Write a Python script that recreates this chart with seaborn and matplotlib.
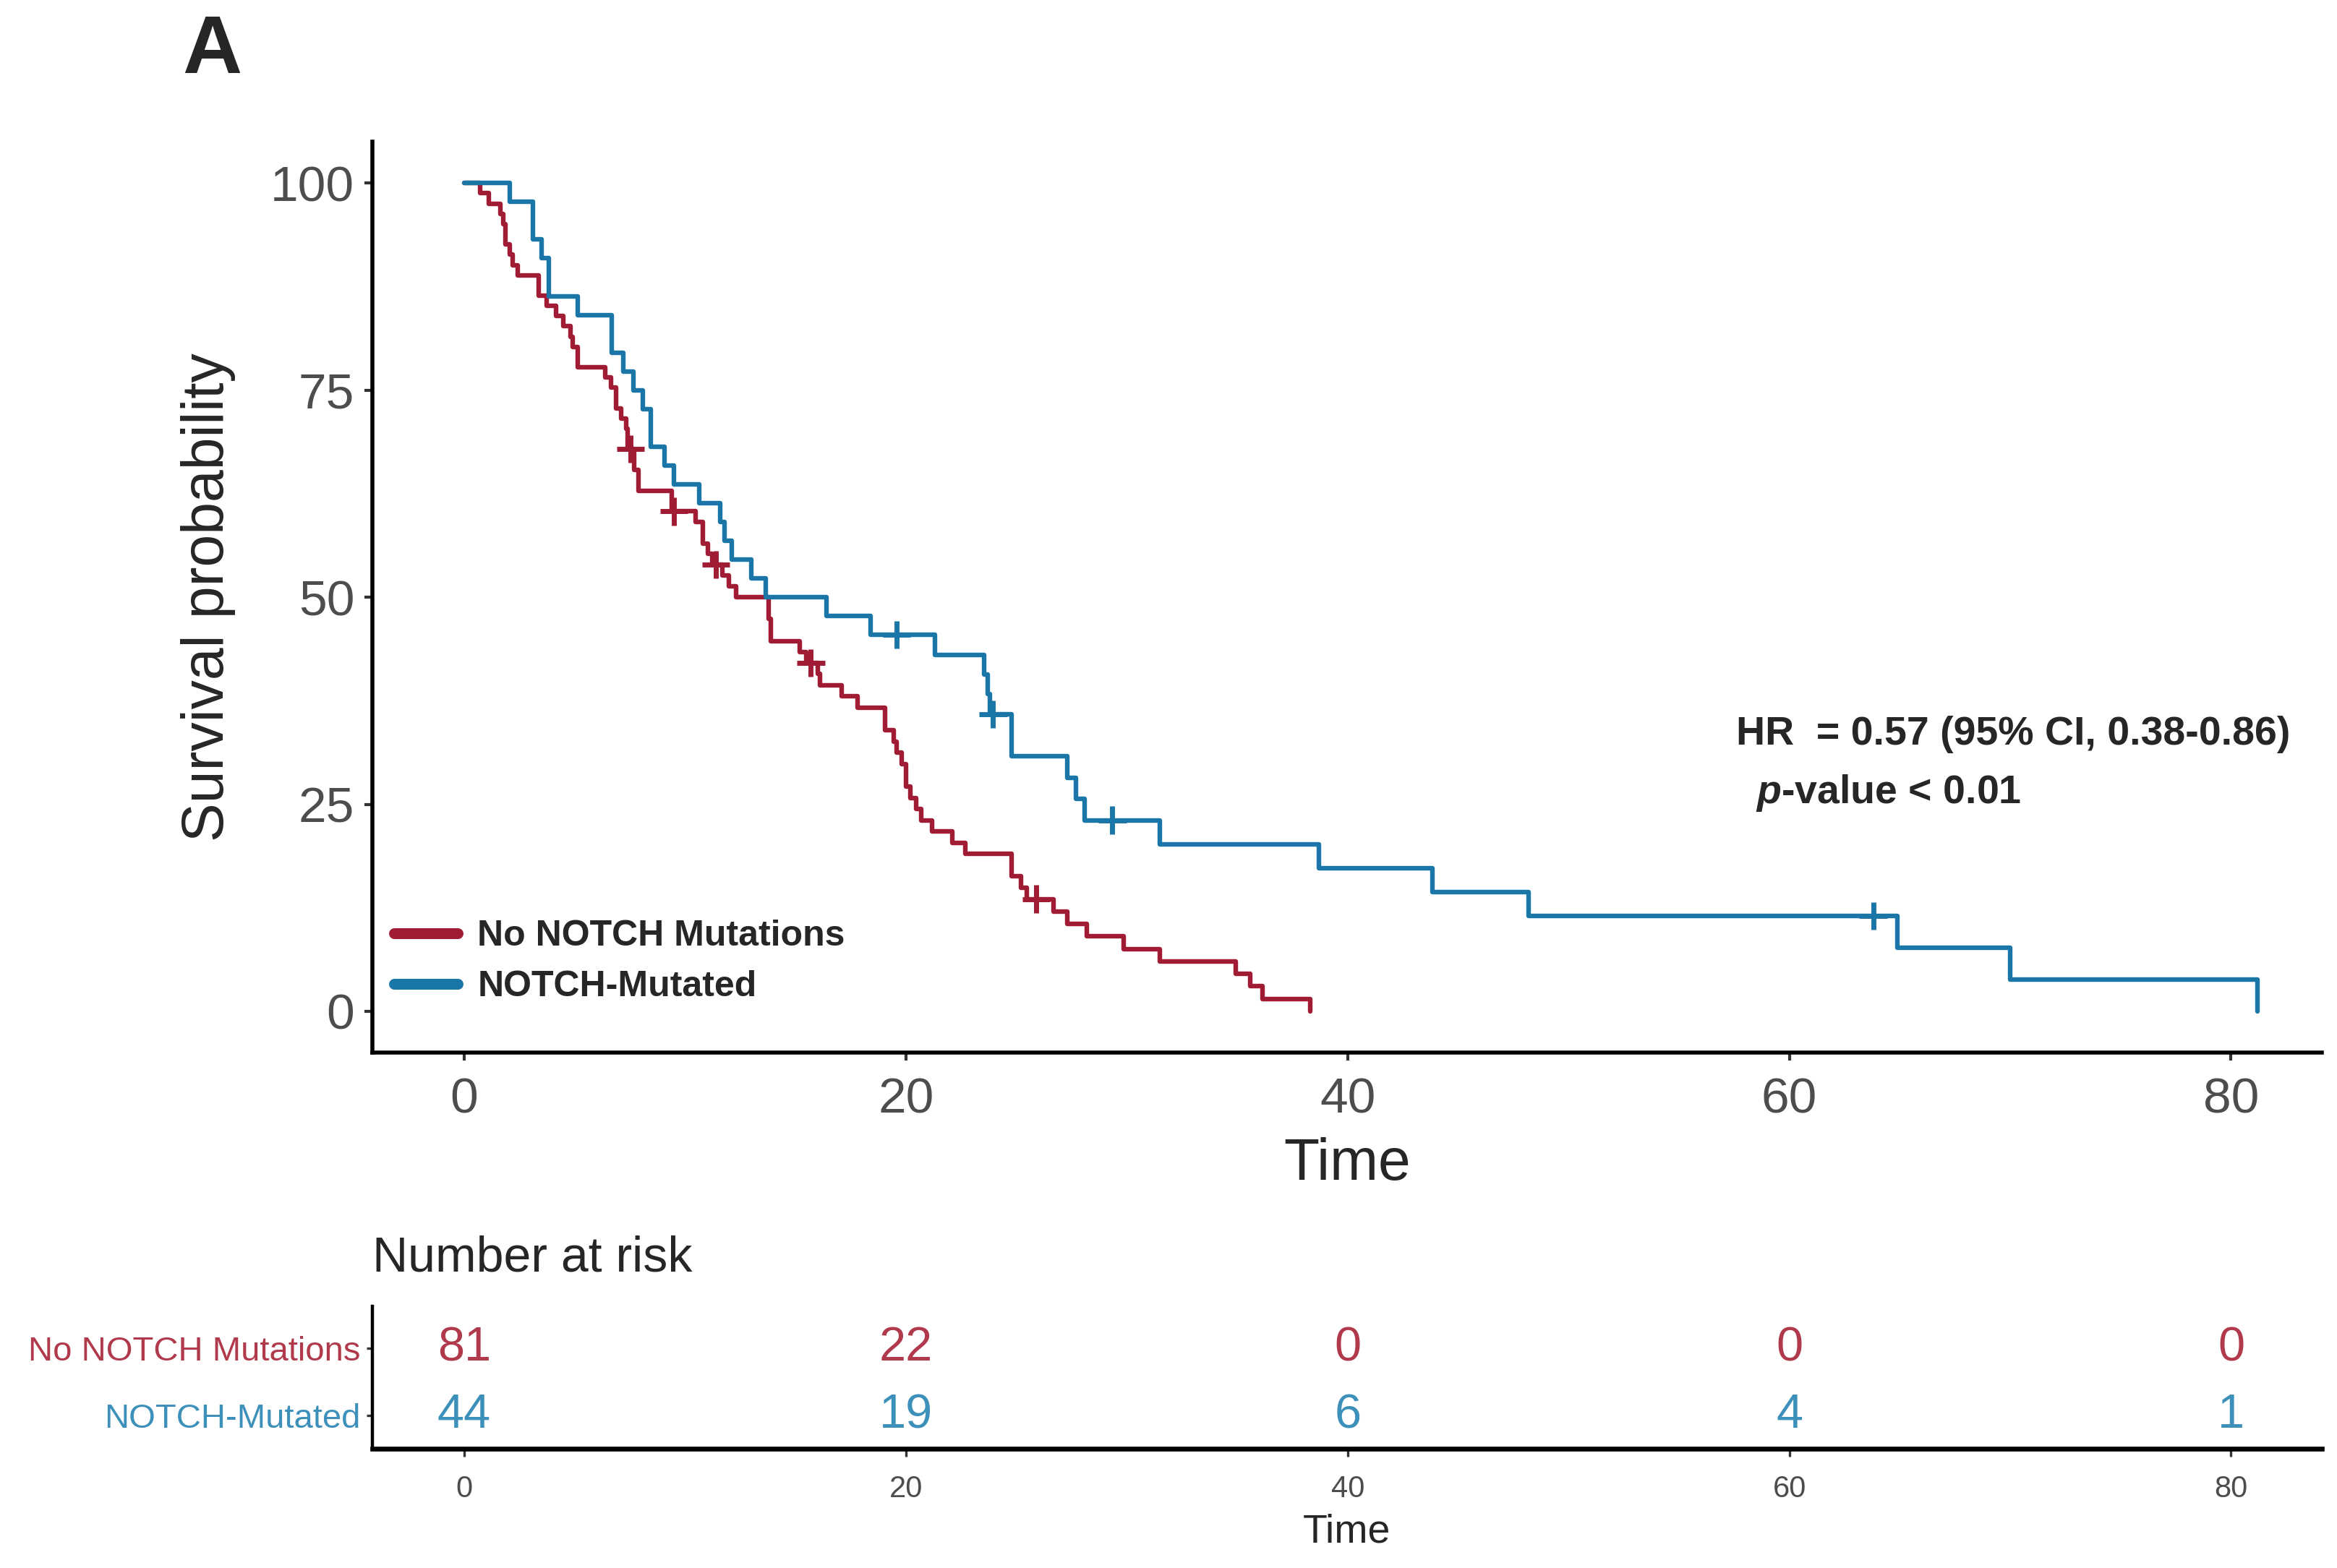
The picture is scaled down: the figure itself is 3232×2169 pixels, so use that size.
import pandas as pd
import matplotlib.pyplot as plt
import seaborn as sns
from matplotlib.lines import Line2D

groups = ['No NOTCH Mutations', 'NOTCH-Mutated']
colors = {'No NOTCH Mutations': '#A01C34', 'NOTCH-Mutated': '#1B76A8'}
risk_colors = {'No NOTCH Mutations': '#B0394C', 'NOTCH-Mutated': '#3C90BA'}

# Kaplan-Meier steps: time of each drop and survival (%) after it
red_time = [0, 0.72, 1.10, 1.65, 1.76, 1.86, 2.08, 2.19, 2.41,
            3.39, 3.72, 4.16, 4.48, 4.81, 4.92, 5.14,
            6.39, 6.66, 6.88, 7.10, 7.32, 7.40,
            7.70, 7.90, 9.40,
            10.48, 10.81, 11.03, 11.24,
            11.70, 12.00, 12.30,
            13.80, 13.90, 15.20, 15.50, 16.00, 16.10, 17.10, 17.80,
            19.07, 19.45, 19.57, 19.82, 20.01, 20.20, 20.45, 20.70, 21.20,
            22.10, 22.70, 24.80, 25.20, 25.46, 26.70, 27.30, 28.20, 29.85,
            31.50, 34.95, 35.60, 36.15, 38.30]
red_surv = [100, 98.77, 97.53, 96.30, 95.06, 92.59, 91.36, 90.12, 88.89,
            86.42, 85.19, 83.95, 82.72, 81.48, 80.25, 77.78,
            76.54, 75.31, 72.84, 71.60, 70.37, 67.90,
            65.39, 62.87, 60.36,
            59.07, 56.51, 55.22, 53.94,
            52.62, 51.31, 49.99,
            47.36, 44.73, 43.41, 42.10, 40.74, 39.38, 38.02, 36.66,
            33.94, 32.58, 31.22, 29.86, 27.14, 25.78, 24.43, 23.07, 21.72,
            20.36, 19.00, 16.29, 14.93, 13.57, 12.06, 10.55, 9.05, 7.54,
            6.03, 4.52, 3.02, 1.51, 0]

blue_time = [0, 2.08, 3.12, 3.50, 3.83, 5.14, 6.67, 7.21, 7.65, 8.08, 8.46, 9.06, 9.50, 10.65, 11.60, 11.80, 12.10, 13.00, 13.65,
             16.40, 18.40, 21.30, 23.55, 23.70, 23.80, 24.80, 27.30, 27.70, 28.10,
             31.50, 38.70, 43.85, 48.20, 64.90, 70.00, 81.20]
blue_surv = [100, 97.73, 93.18, 90.91, 86.36, 84.09, 79.55, 77.27, 75.00, 72.73, 68.18, 65.91, 63.64, 61.36, 59.09, 56.82, 54.55, 52.27, 50.00,
             47.73, 45.45, 43.06, 40.67, 38.28, 35.89, 30.77, 28.21, 25.64, 23.08,
             20.19, 17.31, 14.42, 11.54, 7.69, 3.85, 0]

# censored observations (+ marks)
red_cens_time = [7.53, 9.50, 11.40, 15.70, 25.90]
red_cens_surv = [67.90, 60.36, 53.94, 42.10, 13.57]
blue_cens_time = [19.57, 23.95, 29.35, 63.80]
blue_cens_surv = [45.45, 35.89, 23.08, 11.54]

# number at risk table
risk_times = [0, 20, 40, 60, 80]
red_risk = [81, 22, 0, 0, 0]
blue_risk = [44, 19, 6, 4, 1]

curves = pd.concat([
    pd.DataFrame({'time': red_time, 'surv': red_surv, 'group': groups[0]}),
    pd.DataFrame({'time': blue_time, 'surv': blue_surv, 'group': groups[1]}),
], ignore_index=True)
cens = pd.concat([
    pd.DataFrame({'time': red_cens_time, 'surv': red_cens_surv, 'group': groups[0]}),
    pd.DataFrame({'time': blue_cens_time, 'surv': blue_cens_surv, 'group': groups[1]}),
], ignore_index=True)

sns.set_style('white')
plt.rcParams['font.family'] = ['Liberation Sans', 'DejaVu Sans']
plt.rcParams['mathtext.fontset'] = 'custom'
plt.rcParams['mathtext.it'] = 'Liberation Sans:italic:bold'
plt.rcParams['mathtext.rm'] = 'Liberation Sans:bold'

fig = plt.figure(figsize=(16.16, 10.845), dpi=200)
ax = fig.add_axes([0.1594, 0.3286, 0.834, 0.581])
ax2 = fig.add_axes([0.1594, 0.0762, 0.834, 0.0905])

sns.lineplot(data=curves, x='time', y='surv', hue='group', hue_order=groups,
             palette=colors, estimator=None, sort=False, drawstyle='steps-post',
             linewidth=2.3, legend=False, ax=ax)
sns.scatterplot(data=cens, x='time', y='surv', hue='group', hue_order=groups,
                palette=colors, marker='+', s=190, linewidth=2.5, legend=False, ax=ax)

ax.set_xlim(-4.15, 84.1)
ax.set_ylim(-5, 105)
ax.set_xticks([0, 20, 40, 60, 80])
ax.set_yticks([0, 25, 50, 75, 100])
ax.set_xlabel('Time', fontsize=29)
ax.set_ylabel('Survival probability', fontsize=29)
ax.yaxis.set_label_coords(-0.070, 0.5)
ax.xaxis.set_label_coords(0.5, -0.093)
ax.tick_params(axis='both', labelsize=25, labelcolor='#4D4D4D', color='#333333',
               length=4, width=1.5, direction='out', pad=5)
ax.tick_params(axis='x', bottom=True, pad=8)
ax.tick_params(axis='y', left=True)
for side in ['top', 'right']:
    ax.spines[side].set_visible(False)
for side in ['left', 'bottom']:
    ax.spines[side].set_linewidth(2.0)
    ax.spines[side].set_color('black')

handles = [Line2D([0], [0], color=colors[g], lw=5.4, solid_capstyle='round') for g in groups]
ax.legend(handles, groups, loc='lower left', bbox_to_anchor=(0.0, 0.03), frameon=False,
          prop={'weight': 'bold', 'size': 18}, handlelength=1.75, handletextpad=0.55,
          labelspacing=0.48, borderaxespad=0.2)

ax.text(0.6995, 0.349, 'HR  = 0.57 (95% CI, 0.38-0.86)', transform=ax.transAxes,
        fontsize=20, fontweight='bold', va='center', ha='left')
ax.text(0.7095, 0.285, r'$\it{p}$-value < 0.01', transform=ax.transAxes,
        fontsize=20, fontweight='bold', va='center', ha='left')

# risk table
row_y = {groups[0]: 1, groups[1]: 0}
for g, vals in zip(groups, [red_risk, blue_risk]):
    for t, n in zip(risk_times, vals):
        ax2.text(t, row_y[g], str(n), color=risk_colors[g], fontsize=24,
                 ha='center', va='center')
ax2.set_xlim(-4.15, 84.1)
ax2.set_ylim(-0.49, 1.62)
ax2.set_xticks(risk_times)
ax2.set_yticks([1, 0])
ax2.set_yticklabels(groups, fontsize=17)
for lab, g in zip(ax2.get_yticklabels(), groups):
    lab.set_color(risk_colors[g])
ax2.tick_params(axis='x', labelsize=15, labelcolor='#4D4D4D', color='#333333',
                length=4, width=1.2, bottom=True, pad=9)
ax2.tick_params(axis='y', color='#333333', length=3, width=1.2, left=True, pad=3)
ax2.set_xlabel('Time', fontsize=20, labelpad=5)
ax2.set_ylabel('')
for side in ['top', 'right']:
    ax2.spines[side].set_visible(False)
ax2.spines['left'].set_linewidth(1.6)
ax2.spines['bottom'].set_linewidth(2.4)
ax2.spines['left'].set_color('black')
ax2.spines['bottom'].set_color('black')
ax2.text(0.0, 1.34, 'Number at risk', transform=ax2.transAxes, fontsize=24.5,
         ha='left', va='center')

fig.text(0.078, 0.967, 'A', fontsize=41, fontweight='bold', ha='left', va='center')

fig.savefig('out.png', dpi=200, facecolor='white')
